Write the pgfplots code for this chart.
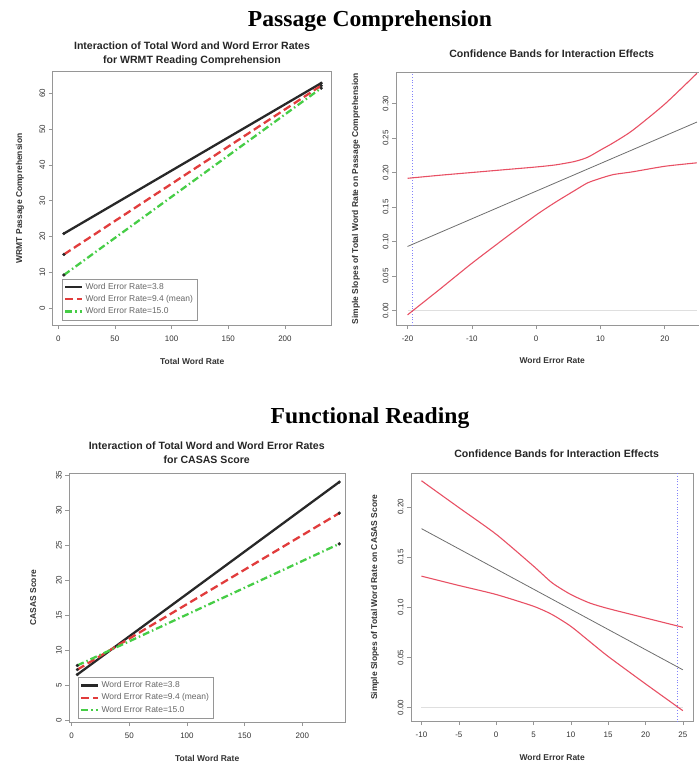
\documentclass[border=0pt]{standalone}
\usepackage{pgfplots}
\pgfplotsset{compat=1.18}
\usepackage{fontspec}
\setmainfont{Liberation Sans}
\newfontfamily\headfont{Liberation Serif}

\definecolor{rblack}{RGB}{40,40,40}
\definecolor{rred}{RGB}{225,60,60}
\definecolor{rgreen}{RGB}{70,205,70}
\definecolor{bandred}{RGB}{232,80,100}
\definecolor{midgray}{RGB}{110,110,110}
\definecolor{boxgray}{RGB}{150,150,150}
\definecolor{refblue}{RGB}{130,130,250}

\pgfplotsset{
  rplot/.style={
    scale only axis,
    axis line style={boxgray, line width=0.7pt},
    tick style={boxgray, line width=0.6pt},
    tick align=outside,
    major tick length=4bp,
    xtick pos=lower, ytick pos=left,
    ticklabel style={font=\fontsize{8}{9}\selectfont, text=black!80},
    /pgf/number format/assume math mode=true,
    yticklabel style={rotate=90, anchor=south},
    xticklabel style={yshift=-3bp},
    label style={font=\bfseries\fontsize{8.5}{9}\selectfont, text=black!80},
    clip=true,
  },
  slopes/.style={rplot, legend style={draw=boxgray, font=\fontsize{8.5}{9}\selectfont, text=black!60,
      cells={anchor=west}, row sep=0.5pt, inner sep=2.5pt},
    legend image post style={mark=none},
    legend cell align=left},
  bands/.style={rplot,
    yticklabel style={/pgf/number format/.cd, fixed, fixed zerofill, precision=2}},
  endmark/.style={mark=*, mark size=1.5pt, mark options={solid, fill=rblack, draw=rblack, line width=0.3pt}},
}

\begin{document}
\begin{tikzpicture}

% section headings
\node[font=\headfont\bfseries\fontsize{23}{26}\selectfont, anchor=base, xscale=1.03] at (370bp,-26.7bp) {Passage Comprehension};
\node[font=\headfont\bfseries\fontsize{23}{26}\selectfont, anchor=base, xscale=1.03] at (370bp,-423.3bp) {Functional Reading};

% panel titles
\node[font=\bfseries\fontsize{10.6}{14}\selectfont, align=center, text=black!85] at (192bp,-53.7bp)
  {Interaction of Total Word and Word Error Rates\\for WRMT Reading Comprehension};
\node[font=\bfseries\fontsize{10.6}{14}\selectfont, text=black!85] at (551.7bp,-54bp) {Confidence Bands for Interaction Effects};
\node[font=\bfseries\fontsize{10.6}{14}\selectfont, align=center, text=black!85] at (206.7bp,-453bp)
  {Interaction of Total Word and Word Error Rates\\for CASAS Score};
\node[font=\bfseries\fontsize{10.6}{14}\selectfont, text=black!85] at (556.7bp,-454bp) {Confidence Bands for Interaction Effects};

% top left: WRMT
\begin{axis}[slopes, at={(52.7bp,-325bp)}, anchor=south west,
  width=279bp, height=253.3bp,
  xmin=-4.9, xmax=241.3, ymin=-4.8, ymax=66.1,
  xtick={0,50,100,150,200}, ytick={0,10,20,30,40,50,60},
  xlabel={Total Word Rate}, ylabel={WRMT Passage Comprehension},
  xlabel style={at={(axis description cs:0.5,0)}, anchor=center, yshift=-36.7bp},
  ylabel style={at={(axis description cs:0,0.5)}, anchor=center, yshift=32.7bp},
  legend style={at={(0.032,0.02)}, anchor=south west}]
\addplot[rblack, line width=2.3pt, endmark] coordinates {(5,20.8) (232,62.9)};
\addplot[rred, line width=2.3pt, dash pattern=on 8pt off 4pt, endmark] coordinates {(5,14.95) (232,62.2)};
\addplot[rgreen, line width=2.3pt, dash pattern=on 7pt off 3pt on 1.5pt off 3pt, endmark] coordinates {(5,9.2) (232,61.5)};
\legend{Word Error Rate=3.8, Word Error Rate=9.4 (mean), Word Error Rate=15.0}
\end{axis}

% top right: bands
\begin{axis}[bands, at={(396bp,-325bp)}, anchor=south west,
  width=312.5bp, height=252.7bp,
  xmin=-21.8, xmax=26.8, ymin=-0.0207, ymax=0.345,
  xtick={-20,-10,0,10,20}, ytick={0,0.05,0.10,0.15,0.20,0.25,0.30},
  xlabel={Word Error Rate}, ylabel={Simple Slopes of Total Word Rate on Passage Comprehension},
  xlabel style={at={(axis description cs:0.5,0)}, anchor=center, yshift=-35.7bp},
  ylabel style={at={(axis description cs:0,0.5)}, anchor=center, yshift=40bp}]
\addplot[gray!25, line width=0.8pt] coordinates {(-20,0) (25,0)};
\addplot[refblue, line width=0.8pt, dotted] coordinates {(-19.2,-0.03) (-19.2,0.36)};
\addplot[midgray, line width=0.8pt] coordinates {(-20,0.093) (25,0.273)};
\addplot[bandred, line width=1.1pt, smooth, tension=0.4] coordinates {
  (-20,0.1916) (-15,0.196) (-10,0.200) (-5,0.204) (0,0.208) (3,0.211) (6,0.216)
  (8,0.222) (10,0.2325) (12,0.243) (15,0.261) (20,0.299) (25,0.3435)};
\addplot[bandred, line width=1.1pt, smooth, tension=0.4] coordinates {
  (-20,-0.006) (-15,0.031) (-10,0.0686) (-5,0.104) (0,0.1385) (3,0.157) (6,0.174)
  (8,0.185) (10,0.1916) (12,0.197) (15,0.201) (20,0.209) (25,0.214)};
\end{axis}

% bottom left: CASAS
\begin{axis}[slopes, at={(69.3bp,-722bp)}, anchor=south west,
  width=275.7bp, height=248.7bp,
  xmin=-2, xmax=237, ymin=-0.3, ymax=35.3,
  xtick={0,50,100,150,200}, ytick={0,5,10,15,20,25,30,35},
  xlabel={Total Word Rate}, ylabel={CASAS Score},
  xlabel style={at={(axis description cs:0.5,0)}, anchor=center, yshift=-36bp},
  ylabel style={at={(axis description cs:0,0.5)}, anchor=center, yshift=36bp},
  legend style={at={(0.03,0.015)}, anchor=south west}]
\addplot[rblack, line width=2.3pt, endmark] coordinates {(5,6.5) (232,34.05)};
\addplot[rred, line width=2.3pt, dash pattern=on 8pt off 4pt, endmark] coordinates {(5,7.2) (232,29.6)};
\addplot[rgreen, line width=2.3pt, dash pattern=on 7pt off 3pt on 1.5pt off 3pt, endmark] coordinates {(5,7.8) (232,25.2)};
\legend{Word Error Rate=3.8, Word Error Rate=9.4 (mean), Word Error Rate=15.0}
\end{axis}

% bottom right: bands
\begin{axis}[bands, at={(411bp,-721bp)}, anchor=south west,
  width=282.3bp, height=247.7bp,
  xmin=-11.4, xmax=26.4, ymin=-0.0133, ymax=0.2334,
  xtick={-10,-5,0,5,10,15,20,25}, ytick={0,0.05,0.10,0.15,0.20},
  xlabel={Word Error Rate}, ylabel={Simple Slopes of Total Word Rate on CASAS Score},
  xlabel style={at={(axis description cs:0.5,0)}, anchor=center, yshift=-36bp},
  ylabel style={at={(axis description cs:0,0.5)}, anchor=center, yshift=36bp}]
\addplot[gray!25, line width=0.8pt] coordinates {(-10,0) (25,0)};
\addplot[refblue, line width=0.8pt, dotted] coordinates {(24.3,-0.02) (24.3,0.24)};
\addplot[midgray, line width=0.8pt] coordinates {(-10,0.1783) (25,0.0377)};
\addplot[bandred, line width=1.1pt, smooth, tension=0.4] coordinates {
  (-10,0.226) (-5,0.1993) (0,0.1727) (5,0.141) (7.5,0.1243) (10,0.1127)
  (12.5,0.1043) (15,0.0987) (20,0.0893) (25,0.080)};
\addplot[bandred, line width=1.1pt, smooth, tension=0.4] coordinates {
  (-10,0.131) (-5,0.1217) (0,0.1127) (5,0.101) (7.5,0.0927) (10,0.081)
  (12.5,0.066) (15,0.051) (20,0.0237) (25,-0.003)};
\end{axis}

\pgfresetboundingbox
\path (0,0) rectangle (699bp,-766bp);
\end{tikzpicture}
\end{document}
